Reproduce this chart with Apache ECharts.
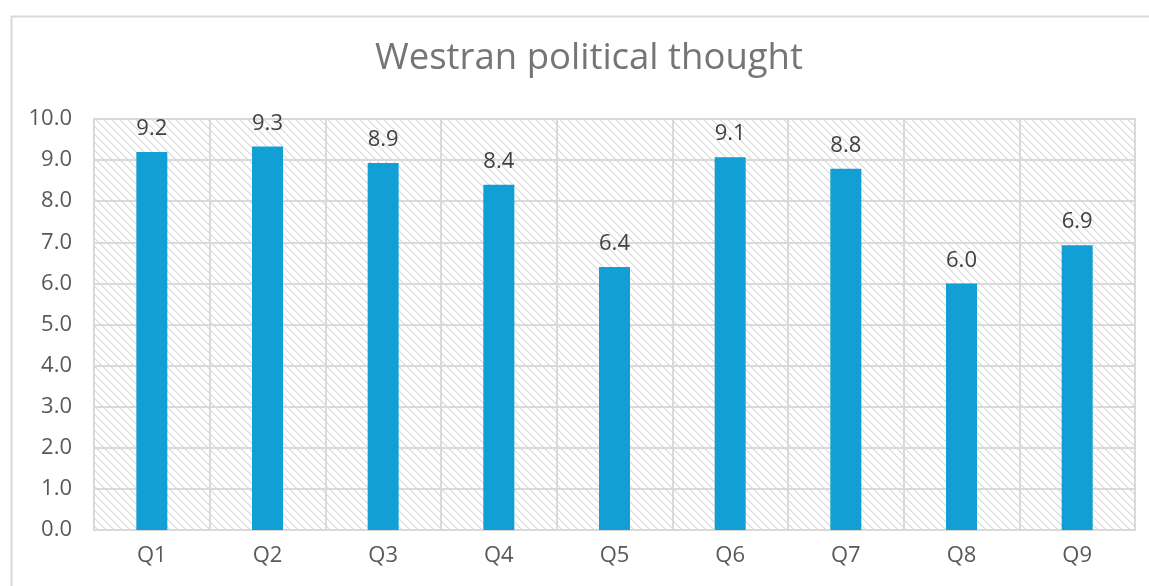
<!DOCTYPE html>
<html>
<head>
<meta charset="utf-8">
<script src="https://cdn.jsdelivr.net/npm/echarts@6/dist/echarts.min.js"></script>
<style>
html,body{margin:0;padding:0;background:#fff;}
#c{width:1149px;height:586px;}
</style>
</head>
<body>
<div id="c"></div>
<script>
var categories = ['Q1','Q2','Q3','Q4','Q5','Q6','Q7','Q8','Q9'];
var values = [9.2, 9.33, 8.93, 8.4, 6.4, 9.07, 8.79, 6.0, 6.93];
var yTicks = [0,1,2,3,4,5,6,7,8,9,10];
var titleText = 'Westran political thought';

// hatch pattern tile
var s = 8;
var cv = document.createElement('canvas');
cv.width = s; cv.height = s;
var ctx = cv.getContext('2d');
ctx.fillStyle = '#ffffff';
ctx.fillRect(0,0,s,s);
for (var i = 0; i < s; i++) {
  ctx.fillStyle = '#dadada';
  ctx.fillRect(i, i, 1, 1);
  ctx.fillStyle = '#e9e9e9';
  ctx.fillRect((i+1)%s, i, 1, 1);
}

var chart = echarts.init(document.getElementById('c'), null, {renderer:'canvas'});
chart.setOption({
  backgroundColor: '#ffffff',
  animation: false,
  title: {
    text: titleText,
    left: 370,
    top: 35,
    textStyle: {fontFamily: 'Open Sans', fontSize: 36.5, fontWeight: 'normal', color: '#757575'}
  },
  graphic: [{
    type: 'rect', left: 9, top: 14, shape: {width: 1150, height: 600},
    style: {fill: 'none', stroke: '#d9d9d9', lineWidth: 2}, z: -1
  }],
  grid: {
    left: 94, right: 14, top: 119, bottom: 56,
    show: true,
    backgroundColor: {image: cv, repeat: 'repeat'},
    borderColor: '#d9d9d9', borderWidth: 2
  },
  xAxis: {
    type: 'category', data: categories,
    axisLine: {show: true, lineStyle: {color: '#d9d9d9', width: 2}},
    axisTick: {show: false},
    splitLine: {show: true, lineStyle: {color: '#d9d9d9', width: 2}},
    axisLabel: {color: '#595959', fontSize: 22, fontFamily: 'Open Sans', margin: 15}
  },
  yAxis: {
    type: 'value', min: 0, max: 10, interval: 1,
    axisLine: {show: false}, axisTick: {show: false},
    splitLine: {show: true, lineStyle: {color: '#d9d9d9', width: 2}},
    axisLabel: {color: '#595959', fontSize: 22, fontFamily: 'Open Sans', margin: 22,
      formatter: function(v){ return v.toFixed(1); }}
  },
  series: [{
    type: 'bar', data: values, barWidth: 31,
    itemStyle: {color: '#129FD6'},
    label: {show: true, position: 'top', distance: 12, color: '#404040', fontSize: 22,
      fontFamily: 'Open Sans', formatter: function(p){ return p.value.toFixed(1); }}
  }]
});
</script>
</body>
</html>
